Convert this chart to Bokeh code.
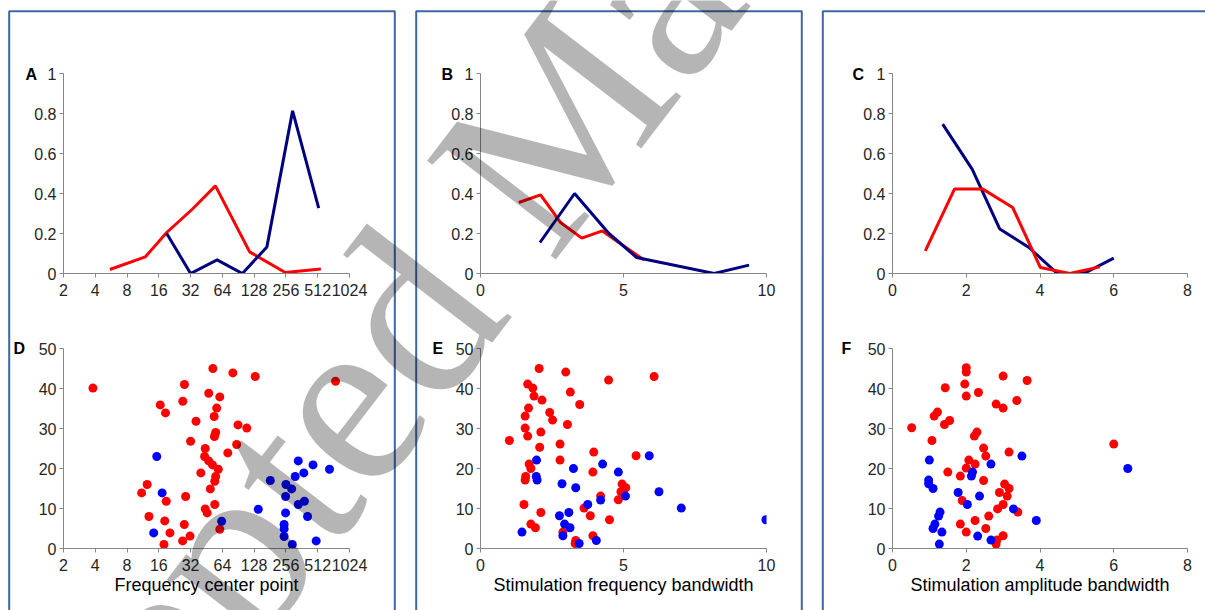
import math
from bokeh.plotting import figure
from bokeh.layouts import row, column
from bokeh.models import Range1d, FixedTicker, Label, BoxAnnotation, BasicTickFormatter
from bokeh.embed import file_html
from bokeh.resources import INLINE

# ---------------- data ----------------
# Panel A (x: frequency center point, log2 axis)
A_red_x = [5.5, 11.9, 19, 33, 55, 116, 252, 548]
A_red_y = [0.02, 0.083, 0.205, 0.32, 0.438, 0.108, 0.005, 0.022]
A_blue_x = [19, 32, 57, 99, 169, 296, 523]
A_blue_y = [0.2, 0.0, 0.068, 0.0, 0.133, 0.813, 0.327]

# Panel B (stimulation frequency bandwidth)
B_red_x = [1.34, 2.1, 2.8, 3.54, 4.26, 5.72]
B_red_y = [0.355, 0.393, 0.255, 0.177, 0.213, 0.067]
B_blue_x = [2.08, 3.29, 4.49, 5.46, 8.17, 9.39]
B_blue_y = [0.155, 0.40, 0.2, 0.08, 0.0, 0.042]

# Panel C (stimulation amplitude bandwidth)
C_red_x = [0.89, 1.68, 2.45, 3.26, 4.01, 4.81, 5.62]
C_red_y = [0.113, 0.422, 0.422, 0.33, 0.03, 0.0, 0.033]
C_blue_x = [1.36, 2.16, 2.91, 3.7, 4.47, 5.19, 6.0]
C_blue_y = [0.747, 0.522, 0.222, 0.13, 0.0, 0.0, 0.077]

# Panel D
D_red_x = [3.8, 16.5, 18.5, 11, 12.4, 12.9, 18.2, 18.8, 20.4, 17.9, 28, 27, 36, 32, 28.7,
           27.9, 26.9, 31.6, 52, 47.5, 60.5, 56.5, 53.5, 55.3, 53.8, 44, 43.4, 47.5, 51.6,
           58.5, 40, 55.3, 54.2, 49.2, 54.2, 44, 45.9, 60.5, 80.4, 90, 109, 87.4, 72, 131, 755]
D_red_y = [40.1, 35.9, 33.9, 13.9, 16, 8, 6.9, 11.8, 3.9, 1, 41, 36.8, 31.8, 26.8, 13,
           6, 1.9, 3.1, 45, 38.8, 37.9, 35.1, 33, 29, 28, 25, 23, 21.9, 20.9,
           19.8, 18.9, 18, 16.8, 14.9, 11, 9.9, 8.9, 4.8, 43.9, 30.9, 30.1, 26, 23.9, 43, 41.8]
D_blue_x = [15.3, 17.2, 14.3, 63, 140, 182, 335, 462, 662, 378, 313, 256, 290, 254, 383,
            335, 410, 254, 246, 246, 246, 294, 495]
D_blue_y = [23, 13.9, 3.9, 6.8, 9.8, 17, 21.9, 20.9, 19.8, 18.9, 18, 16, 14.9, 13, 11.8,
            11, 8, 8.9, 6, 4.9, 3, 1, 1.9]

# Panel E
E_red_x = [2.05, 2.98, 1.65, 1.83, 1.87, 3.14, 2.15, 3.47, 1.68, 2.42, 1.56, 2.52, 3.04, 1.56,
           1.65, 2.11, 1.01, 2.78, 2.07, 3.96, 2.78, 5.44, 1.7, 1.76, 1.58, 1.56, 3.93, 4.48,
           6.07, 4.95, 5.08, 4.91, 4.2, 4.82, 1.52, 3.62, 2.11, 3.84, 4.51, 1.76, 1.92, 2.88,
           3.93, 3.33, 3.31]
E_red_y = [45, 44.1, 41.1, 40.1, 38.1, 39.1, 37.1, 36, 35.1, 34, 33.1, 32.1, 31, 30.1,
           28.1, 29.1, 27, 26.1, 25.3, 24.1, 22.1, 23.2, 21.1, 20, 18, 17.1, 19.1, 42.1,
           43, 16.1, 15.2, 14.2, 13.1, 12.2, 11, 10.1, 9, 8.2, 7.2, 6.1, 5.2, 4.1,
           3.2, 2, 1.25]
E_blue_x = [1.96, 1.95, 1.98, 3.25, 4.27, 4.82, 5.9, 2.85, 3.33, 5.07, 4.2, 6.24, 3.75, 7.02,
            9.98, 2.76, 3.09, 2.94, 3.13, 1.45, 2.88, 4.05, 3.45]
E_blue_y = [22.1, 18, 17.1, 20, 21.1, 19.1, 23.2, 16.2, 15.2, 13.1, 12.1, 14.2, 11, 10.1,
            7.2, 8.2, 9, 6.1, 5.2, 4.1, 3.2, 2, 1.25]

# Panel F
F_red_x = [2.0, 2.0, 1.96, 2.0, 2.33, 3.0, 3.65, 3.37, 2.81, 3.0, 1.43, 1.22, 1.13, 1.55, 1.41,
           0.52, 2.29, 2.22, 1.07, 6.0, 2.47, 2.53, 3.16, 2.07, 2.24, 2.0, 1.5, 1.84, 2.47,
           3.04, 3.16, 2.9, 3.11, 1.89, 3.0, 2.85, 3.4, 2.61, 2.24, 1.84, 2.53, 2.0, 3.0,
           2.83, 2.81]
F_red_y = [45.2, 44.1, 41.1, 38.1, 39, 43.1, 42, 37, 36.1, 35.1, 40.2, 34.1, 33.1, 32, 31,
           30.2, 29.1, 28.1, 27, 26.1, 25.1, 23.1, 24.1, 22.1, 21.1, 20.1, 19.1, 18.1, 17,
           16.1, 15, 14, 13.1, 12, 11, 9.9, 9.1, 8.1, 7, 6.1, 5, 4.1, 3.2,
           2.1, 1.1]
F_blue_x = [1.0, 0.98, 0.98, 1.1, 2.67, 3.51, 6.38, 2.17, 2.14, 1.78, 2.36, 2.03, 3.28, 1.29,
            1.25, 3.9, 1.15, 1.1, 1.34, 2.31, 2.67, 1.27]
F_blue_y = [22.1, 17.1, 16.2, 15, 21.1, 23.1, 20, 19.1, 18.1, 14, 13.1, 11, 9.9, 9.1,
            8.1, 7, 6.1, 5, 4.1, 3.1, 2.1, 1.1]

# ticks
log_ticks = [2, 4, 8, 16, 32, 64, 128, 256, 512, 1024]
log_tick_labels = ["2", "4", "8", "16", "32", "64", "128", "256", "512", "1024"]
prop_ticks = [0, 0.2, 0.4, 0.6, 0.8, 1]
prop_tick_labels = ["0", "0.2", "0.4", "0.6", "0.8", "1"]
count_ticks = [0, 10, 20, 30, 40, 50]
count_tick_labels = ["0", "10", "20", "30", "40", "50"]
bw_ticks = [0, 5, 10]
bw_tick_labels = ["0", "5", "10"]
amp_ticks = [0, 2, 4, 6, 8]
amp_tick_labels = ["0", "2", "4", "6", "8"]

panel_letters = ["A", "B", "C", "D", "E", "F"]
x_titles = ["Frequency center point", "Stimulation frequency bandwidth", "Stimulation amplitude bandwidth"]
watermark_text = "Accepted Manuscript"

RED = "#ff0000"
NAVY = "#000080"
BLUE = "#0000ff"
AXIS = "#868686"
TXT = "#262626"
BOX = "#3d66a6"

# page geometry: figures tile the 1205x610 window
COL_W = [405, 407, 393]
ROW_H = [310, 300]
# column boxes (page px): left, right
BOXES = [(8.7, 394.3), (415.7, 801.3), (822.3, 1400)]
BOX_TOP = 10.8
# panel letter positions (page px, left / baseline)
LETTER_POS = [(25, 73.5), (441, 73.5), (852, 73.5), (13, 348.3), (432, 348.3), (841, 348.3)]

# watermark (page px, label anchor)
WM_X, WM_Y = -123, 1006
WM_ANGLE = math.radians(52.5)
WM_SIZE = "248px"


def fmt_axis(ax, ticks, labels):
    ax.ticker = FixedTicker(ticks=ticks)
    ax.formatter = BasicTickFormatter(use_scientific=False)
    ax.major_label_overrides = {t: l for t, l in zip(ticks, labels)}
    ax.axis_line_color = AXIS
    ax.axis_line_width = 1
    ax.major_tick_line_color = AXIS
    ax.minor_tick_line_color = None
    ax.major_tick_in = 0
    ax.major_tick_out = 4
    ax.major_label_text_font = "Liberation Sans"
    ax.major_label_text_font_size = "16px"
    ax.major_label_text_color = TXT
    ax.axis_label_text_font = "Liberation Sans"
    ax.axis_label_text_font_size = "18px"
    ax.axis_label_text_font_style = "normal"
    ax.axis_label_text_color = "#000000"


def make_fig(col, rowi, ml, fw, mt, fh, xr, yr, xlog, xt, xl, yt, yl, xtitle=None):
    p = figure(width=COL_W[col], height=ROW_H[rowi],
               min_border_left=ml, min_border_right=COL_W[col] - ml - fw,
               min_border_top=mt, min_border_bottom=ROW_H[rowi] - mt - fh,
               x_range=xr, y_range=yr, x_axis_type="log" if xlog else "linear",
               output_backend="svg", toolbar_location=None)
    p.grid.visible = False
    p.outline_line_color = None
    p.background_fill_color = "white"
    p.border_fill_color = "white"
    fmt_axis(p.xaxis[0], xt, xl)
    fmt_axis(p.yaxis[0], yt, yl)
    p.xaxis[0].major_label_standoff = 6
    p.yaxis[0].major_label_standoff = 3
    if xtitle:
        p.xaxis[0].axis_label = xtitle
        p.xaxis[0].axis_label_standoff = 1
    return p


pA = make_fig(0, 0, 63, 286, 73, 200, Range1d(2, 1024), Range1d(0, 1), True,
              log_ticks, log_tick_labels, prop_ticks, prop_tick_labels)
pA.line(A_red_x, A_red_y, line_color=RED, line_width=3)
pA.line(A_blue_x, A_blue_y, line_color=NAVY, line_width=3)

pB = make_fig(1, 0, 75, 286, 73, 200, Range1d(0, 10), Range1d(0, 1), False,
              bw_ticks, bw_tick_labels, prop_ticks, prop_tick_labels)
pB.line(B_red_x, B_red_y, line_color=RED, line_width=3)
pB.line(B_blue_x, B_blue_y, line_color=NAVY, line_width=3)

pC = make_fig(2, 0, 80, 295, 73, 200, Range1d(0, 8), Range1d(0, 1), False,
              amp_ticks, amp_tick_labels, prop_ticks, prop_tick_labels)
pC.line(C_blue_x, C_blue_y, line_color=NAVY, line_width=3)
pC.line(C_red_x, C_red_y, line_color=RED, line_width=3)

pD = make_fig(0, 1, 57, 300, 38, 200, Range1d(2, 1024), Range1d(0, 50), True,
              log_ticks, log_tick_labels, count_ticks, count_tick_labels, x_titles[0])
pD.scatter(D_red_x, D_red_y, size=9, fill_color=RED, line_color=None)
pD.scatter(D_blue_x, D_blue_y, size=9, fill_color=BLUE, line_color=None)

pE = make_fig(1, 1, 72, 291, 38, 200, Range1d(0, 10), Range1d(0, 50), False,
              bw_ticks, bw_tick_labels, count_ticks, count_tick_labels, x_titles[1])
pE.scatter(E_red_x, E_red_y, size=9, fill_color=RED, line_color=None)
pE.scatter(E_blue_x, E_blue_y, size=9, fill_color=BLUE, line_color=None)

pF = make_fig(2, 1, 75, 305, 38, 200, Range1d(0, 8), Range1d(0, 50), False,
              amp_ticks, amp_tick_labels, count_ticks, count_tick_labels, x_titles[2])
pF.scatter(F_red_x, F_red_y, size=9, fill_color=RED, line_color=None)
pF.scatter(F_blue_x, F_blue_y, size=9, fill_color=BLUE, line_color=None)

layout = row(column(pA, pD, spacing=0), column(pB, pE, spacing=0), column(pC, pF, spacing=0),
             spacing=0)

# ---- transparent overlay page layer: column boxes, panel letters, watermark ----
ov = figure(width=1205, height=610, x_range=Range1d(0, 1205), y_range=Range1d(0, 610),
            min_border=0, x_axis_location=None, y_axis_location=None,
            output_backend="svg", toolbar_location=None,
            styles={"position": "absolute", "left": "0px", "top": "0px",
                    "z-index": "10", "pointer-events": "none"})
ov.grid.visible = False
ov.outline_line_color = None
ov.background_fill_color = None
ov.border_fill_color = None

for bl, br in BOXES:
    ov.add_layout(BoxAnnotation(left=bl, right=br, top=BOX_TOP, bottom=800,
                                left_units="canvas", right_units="canvas",
                                top_units="canvas", bottom_units="canvas",
                                fill_alpha=0, line_color=BOX, line_alpha=1.0, line_width=2))
for letter, (lx, ly) in zip(panel_letters, LETTER_POS):
    ov.add_layout(Label(x=lx, y=ly, x_units="canvas", y_units="canvas", text=letter,
                        text_font="Liberation Sans", text_font_style="bold",
                        text_font_size="16px", text_color="#000000",
                        text_baseline="alphabetic", text_align="left"))
ov.add_layout(Label(x=WM_X, y=WM_Y, x_units="canvas", y_units="canvas",
                    text=watermark_text, angle=WM_ANGLE, angle_units="rad",
                    text_font="Liberation Serif", text_font_size=WM_SIZE,
                    text_color="#000000", text_alpha=0.29,
                    text_baseline="alphabetic", text_align="left"))

open("out.html", "w").write(file_html([layout, ov], INLINE))
